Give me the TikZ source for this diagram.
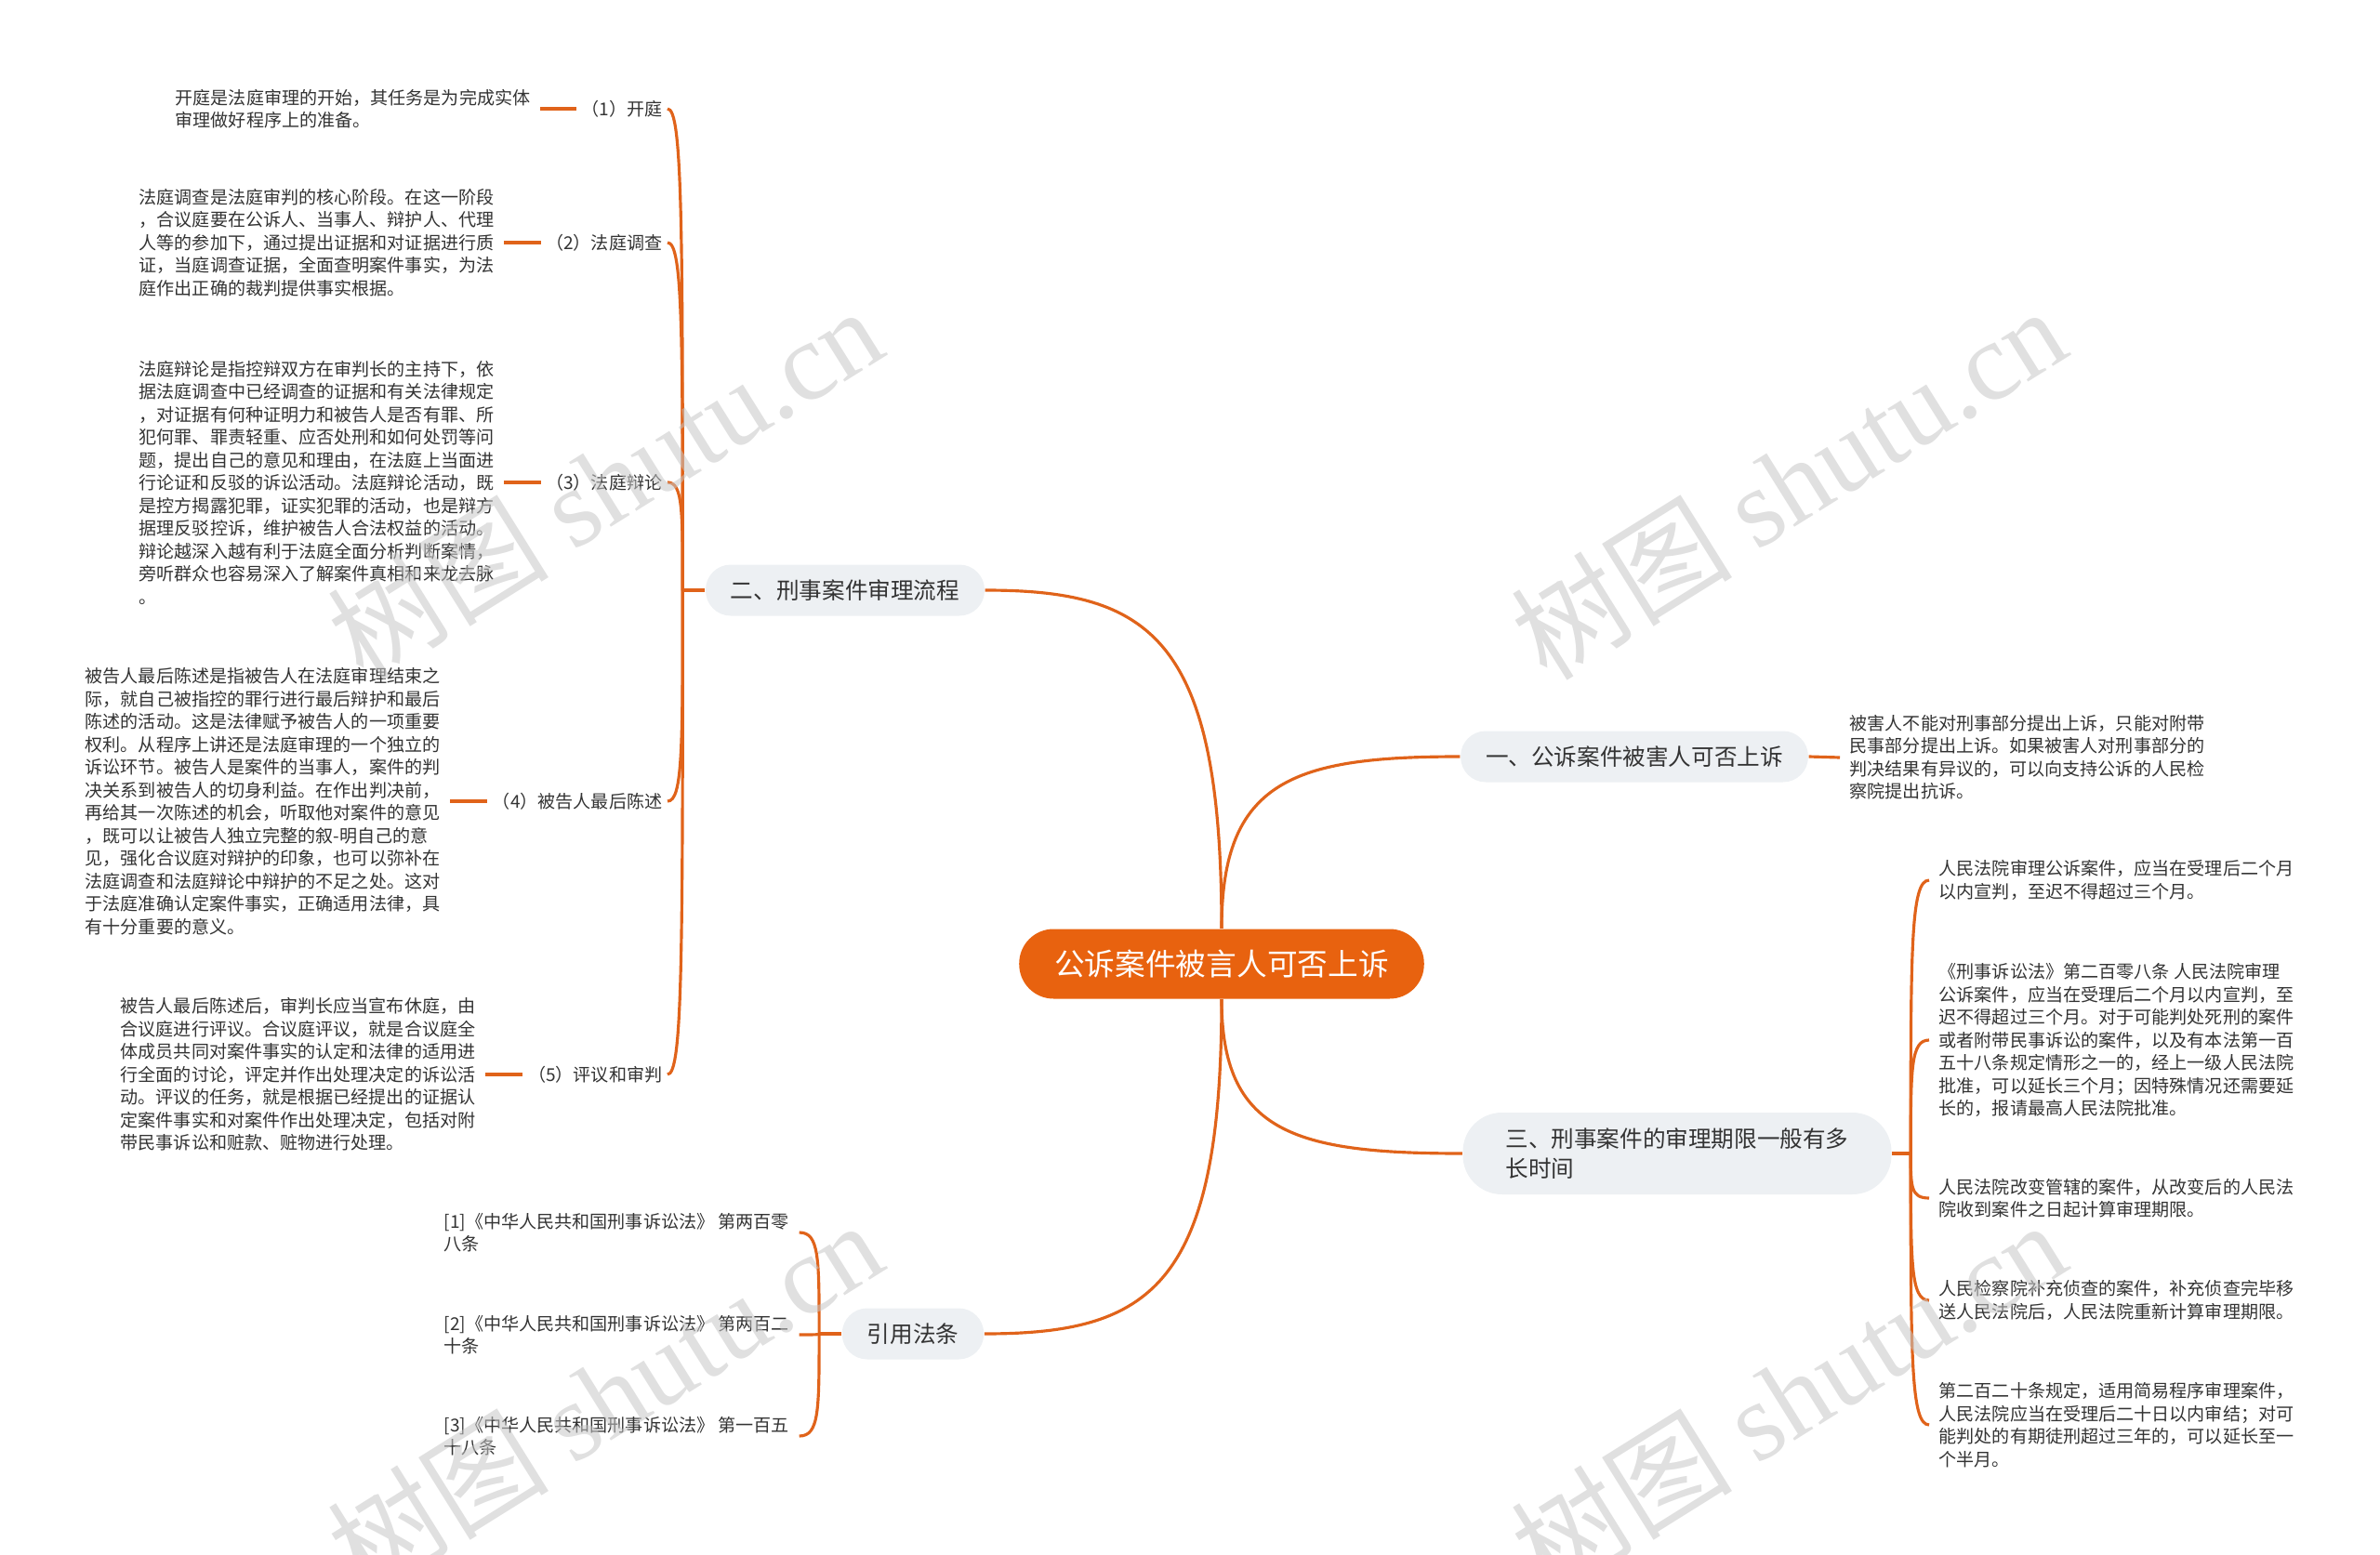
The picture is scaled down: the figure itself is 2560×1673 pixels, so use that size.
\documentclass[tikz,border=0pt]{standalone}
\usepackage{fontspec}
\setmainfont{Noto Sans CJK SC}
\newfontfamily\wmlatin{Liberation Serif}
\usetikzlibrary{calc}
\definecolor{rootorange}{HTML}{E8620F}
\definecolor{linkorange}{HTML}{E0631A}
\definecolor{topicgray}{HTML}{EDF0F3}
\definecolor{inkgray}{HTML}{333333}
\newcommand{\leaffont}{\fontsize{5.43}{6.97}\selectfont}
\newcommand{\topicfont}{\fontsize{7}{9.3}\selectfont}
\newcommand{\rootfont}{\fontsize{9.3}{11}\selectfont}
\newcommand{\wmfont}{\fontsize{34}{36}\selectfont}
\begin{document}
\begin{tikzpicture}[x=0.1mm,y=-0.1mm,
  rootbox/.style={fill=rootorange,text=white,rounded corners=3.7mm,inner xsep=3.8mm,inner ysep=0pt,minimum height=7.5mm,font=\rootfont},
  topicbox/.style={fill=topicgray,text=inkgray,rounded corners=2.7mm,inner xsep=2.7mm,inner ysep=0pt,minimum height=5.5mm,font=\topicfont},
  leafbox/.style={align=left,text=inkgray,inner xsep=1mm,inner ysep=0.5mm,font=\leaffont},
  tagbox/.style={text=inkgray,inner xsep=0.5mm,inner ysep=0.5mm,font=\leaffont},
  linkline/.style={draw=linkorange,line width=0.9pt},
  brkcurve/.style={to path={.. controls ($(\tikztostart)!0.75!(\tikztostart|-\tikztotarget)$) and (\tikztotarget-|\tikztostart) .. (\tikztotarget)}},
  trunkcurve/.style={to path={.. controls ($(\tikztostart)!0.86!(\tikztostart|-\tikztotarget)$) and ($(\tikztotarget)!0.7!(\tikztotarget-|\tikztostart)$) .. (\tikztotarget)}},
  wmtext/.style={text=gray!45,text opacity=0.55,rotate=32,font=\wmfont}]
\useasboundingbox (0,0) rectangle (2560,1673);
\node[rootbox] (root) at (1314,1037) {公诉案件被言人可否上诉};
\node[topicbox] (b1) at (1758,814) {一、公诉案件被害人可否上诉};
\node[topicbox] (b2) at (909,635) {二、刑事案件审理流程};
\node[topicbox,align=left,rounded corners=4.2mm,minimum height=8.8mm,inner xsep=4.6mm] (b3) at (1804,1241) {三、刑事案件的审理期限一般有多\\长时间};
\node[topicbox] (b4) at (982,1435) {引用法条};
\draw[linkline] (root.north) to[trunkcurve] (b2.east);
\draw[linkline] (root.north) to[trunkcurve] (b1.west);
\draw[linkline] (root.south) to[trunkcurve] (b3.west);
\draw[linkline] (root.south) to[trunkcurve] (b4.east);
\node[leafbox,anchor=west] (a1) at (1979,815) {被害人不能对刑事部分提出上诉，只能对附带\\民事部分提出上诉。如果被害人对刑事部分的\\判决结果有异议的，可以向支持公诉的人民检\\察院提出抗诉。};
\draw[linkline] (b1.east) -- (a1.west);
\node[tagbox,anchor=east] (l1) at (718,117) {（1）开庭};
\node[tagbox,anchor=east] (l2) at (718,261) {（2）法庭调查};
\node[tagbox,anchor=east] (l3) at (718,519) {（3）法庭辩论};
\node[tagbox,anchor=east] (l4) at (718,862) {（4）被告人最后陈述};
\node[tagbox,anchor=east] (l5) at (718,1156) {（5）评议和审判};
\node[leafbox,anchor=west] (t1) at (178,117) {开庭是法庭审理的开始，其任务是为完成实体\\审理做好程序上的准备。};
\node[leafbox,anchor=west] (t2) at (139,261) {法庭调查是法庭审判的核心阶段。在这一阶段\\，合议庭要在公诉人、当事人、辩护人、代理\\人等的参加下，通过提出证据和对证据进行质\\证，当庭调查证据，全面查明案件事实，为法\\庭作出正确的裁判提供事实根据。};
\node[leafbox,anchor=west] (t3) at (139,519) {法庭辩论是指控辩双方在审判长的主持下，依\\据法庭调查中已经调查的证据和有关法律规定\\，对证据有何种证明力和被告人是否有罪、所\\犯何罪、罪责轻重、应否处刑和如何处罚等问\\题，提出自己的意见和理由，在法庭上当面进\\行论证和反驳的诉讼活动。法庭辩论活动，既\\是控方揭露犯罪，证实犯罪的活动，也是辩方\\据理反驳控诉，维护被告人合法权益的活动。\\辩论越深入越有利于法庭全面分析判断案情，\\旁听群众也容易深入了解案件真相和来龙去脉\\。};
\node[leafbox,anchor=west] (t4) at (81,862) {被告人最后陈述是指被告人在法庭审理结束之\\际，就自己被指控的罪行进行最后辩护和最后\\陈述的活动。这是法律赋予被告人的一项重要\\权利。从程序上讲还是法庭审理的一个独立的\\诉讼环节。被告人是案件的当事人，案件的判\\决关系到被告人的切身利益。在作出判决前，\\再给其一次陈述的机会，听取他对案件的意见\\，既可以让被告人独立完整的叙-明自己的意\\见，强化合议庭对辩护的印象，也可以弥补在\\法庭调查和法庭辩论中辩护的不足之处。这对\\于法庭准确认定案件事实，正确适用法律，具\\有十分重要的意义。};
\node[leafbox,anchor=west] (t5) at (119,1156) {被告人最后陈述后，审判长应当宣布休庭，由\\合议庭进行评议。合议庭评议，就是合议庭全\\体成员共同对案件事实的认定和法律的适用进\\行全面的讨论，评定并作出处理决定的诉讼活\\动。评议的任务，就是根据已经提出的证据认\\定案件事实和对案件作出处理决定，包括对附\\带民事诉讼和赃款、赃物进行处理。};
\draw[linkline] (b2.west) -- ++(-24,0) coordinate (j2);
\foreach \k in {1,...,5} {
  \draw[linkline] (j2) to[brkcurve] (l\k.east);
  \draw[linkline] (t\k.east) -- (l\k.west);
}
\node[leafbox,anchor=west] (c1) at (2075,947) {人民法院审理公诉案件，应当在受理后二个月\\以内宣判，至迟不得超过三个月。};
\node[leafbox,anchor=west] (c2) at (2075,1119) {《刑事诉讼法》第二百零八条 人民法院审理\\公诉案件，应当在受理后二个月以内宣判，至\\迟不得超过三个月。对于可能判处死刑的案件\\或者附带民事诉讼的案件，以及有本法第一百\\五十八条规定情形之一的，经上一级人民法院\\批准，可以延长三个月；因特殊情况还需要延\\长的，报请最高人民法院批准。};
\node[leafbox,anchor=west] (c3) at (2075,1289) {人民法院改变管辖的案件，从改变后的人民法\\院收到案件之日起计算审理期限。};
\node[leafbox,anchor=west] (c4) at (2075,1399) {人民检察院补充侦查的案件，补充侦查完毕移\\送人民法院后，人民法院重新计算审理期限。};
\node[leafbox,anchor=west] (c5) at (2075,1533) {第二百二十条规定，适用简易程序审理案件，\\人民法院应当在受理后二十日以内审结；对可\\能判处的有期徒刑超过三年的，可以延长至一\\个半月。};
\draw[linkline] (b3.east) -- ++(20,0) coordinate (j3);
\foreach \k in {1,...,5}
  \draw[linkline] (j3) to[brkcurve] (c\k.west);
\node[leafbox,anchor=west] (r1) at (467,1326) {[1]《中华人民共和国刑事诉讼法》 第两百零\\八条};
\node[leafbox,anchor=west] (r2) at (467,1436) {[2]《中华人民共和国刑事诉讼法》 第两百二\\十条};
\node[leafbox,anchor=west] (r3) at (467,1545) {[3]《中华人民共和国刑事诉讼法》 第一百五\\十八条};
\draw[linkline] (b4.west) -- ++(-24,0) coordinate (j4);
\foreach \k in {1,2,3}
  \draw[linkline] (j4) to[brkcurve] (r\k.east);
\foreach \wx/\wy/\wn in {650/519/1,1923/519/2,650/1502/3,1923/1502/4}
  \node[wmtext] (wm\wn) at (\wx,\wy) {树图 {\wmlatin shutu.cn}};
\end{tikzpicture}
\end{document}
